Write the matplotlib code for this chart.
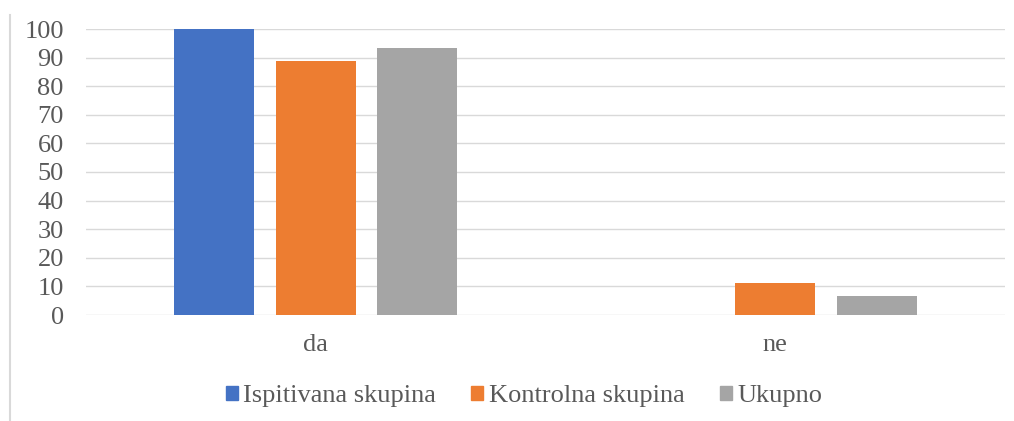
import numpy as np
import matplotlib.pyplot as plt
from matplotlib.lines import Line2D

# Data
categories = ['da', 'ne']
series_names = ['Ispitivana skupina', 'Kontrolna skupina', 'Ukupno']
ispitivana = [100, 0]
kontrolna = [88.9, 11.1]
ukupno = [93.3, 6.7]
y_ticks = [0, 10, 20, 30, 40, 50, 60, 70, 80, 90, 100]

colors = ['#4472C4', '#ED7D31', '#A5A5A5']
text_color = '#595959'

plt.rcParams['font.family'] = ['Liberation Serif', 'DejaVu Serif']

fig = plt.figure(figsize=(10.14, 4.21), dpi=100)
ax = fig.add_axes([86 / 1014, 1 - 315 / 421, (1005 - 86) / 1014, (315 - 29) / 421])

x = np.arange(len(categories))
width = 0.174
offset = 0.221
for i, (vals, name) in enumerate(zip([ispitivana, kontrolna, ukupno], series_names)):
    ax.bar(x + (i - 1) * offset, vals, width, color=colors[i], label=name, zorder=3)

ax.set_xlim(-0.5, 1.5)
ax.set_ylim(0, 100)
ax.set_yticks(y_ticks)
ax.set_xticks(x)
ax.set_xticklabels(categories)
ax.tick_params(axis='both', length=0, labelsize=19, colors=text_color)
ax.tick_params(axis='y', pad=16)
ax.tick_params(axis='x', pad=14)
ax.yaxis.grid(True, color='#D9D9D9', linewidth=1, zorder=0)
ax.set_axisbelow(True)
for s in ax.spines.values():
    s.set_visible(False)

# legend
handles = [plt.Rectangle((0, 0), 1, 1, color=c) for c in colors]
fig.legend(handles, series_names, loc='center', bbox_to_anchor=(524 / 1014, 1 - 396 / 421),
           ncol=3, frameon=False, fontsize=19, labelcolor=text_color,
           handlelength=0.45, handleheight=0.45, handletextpad=0.2, columnspacing=1.35)

# light border line at left of chart area
fig.add_artist(Line2D([10 / 1014, 10 / 1014], [1 - 15 / 421, 0], color='#D9D9D9', linewidth=1.5))

fig.savefig('out.png', dpi=100)
